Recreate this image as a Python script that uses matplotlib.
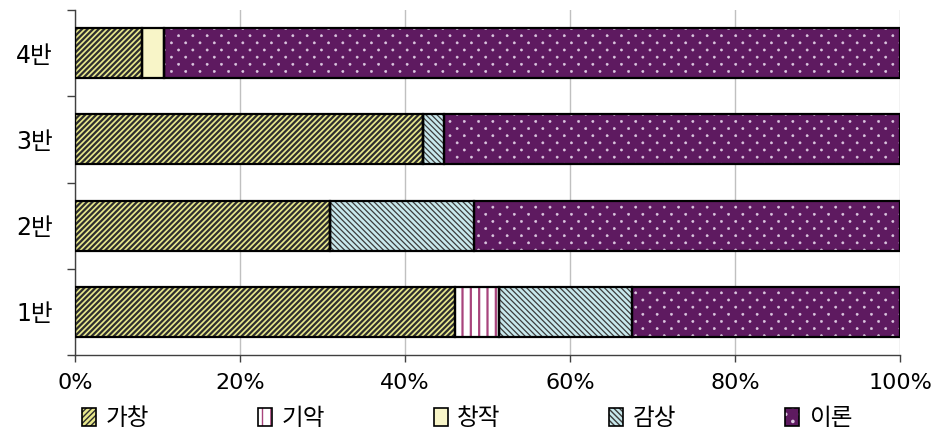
import numpy as np
import matplotlib
matplotlib.use('Agg')
import matplotlib.pyplot as plt
import matplotlib.hatch as mhatch
from matplotlib.path import Path
from matplotlib.patches import Patch
from matplotlib.legend_handler import HandlerTuple

plt.rcParams['font.family'] = ['DejaVu Sans', 'Noto Sans CJK KR']


# '.' 해치를 엑셀식 점무늬(가로 간격 넓고 행은 엇갈림)로 교체
class StaggerDots(mhatch.HatchPatternBase):
    def __init__(self, hatch, density):
        self.on = hatch.count('.') > 0
        self.rows, self.cols, self.r = 14, 7, 0.011
        circ = Path.unit_circle()
        self.cv, self.cc = circ.vertices, circ.codes
        self.centers = []
        if self.on:
            for i in range(self.rows + 1):
                yy = i / self.rows
                if i % 2 == 0:
                    xs = [j / self.cols for j in range(self.cols + 1)]
                else:
                    xs = [(j + 0.5) / self.cols for j in range(self.cols)]
                self.centers += [(xx, yy) for xx in xs]
        self.num_vertices = len(self.centers) * len(self.cv)

    def set_vertices_and_codes(self, vertices, codes):
        n = len(self.cv)
        for k, (cx, cy) in enumerate(self.centers):
            vertices[k * n:(k + 1) * n] = self.cv * self.r + (cx, cy)
            codes[k * n:(k + 1) * n] = self.cc


mhatch._hatch_types = [StaggerDots if t is mhatch.SmallFilledCircles else t
                       for t in mhatch._hatch_types]

# 데이터 (비율, %)
classes = ['1반', '2반', '3반', '4반']
series = ['가창', '기악', '창작', '감상', '이론']
gachang = [46.1, 30.9, 42.2, 8.1]
giak = [5.3, 0.0, 0.0, 0.0]
changjak = [0.0, 0.0, 0.0, 2.7]
gamsang = [16.1, 17.5, 2.5, 0.0]
iron = [32.5, 51.6, 55.3, 89.2]
xticks = [0, 20, 40, 60, 80, 100]

values = [gachang, giak, changjak, gamsang, iron]
faces = ['#e8e88c', '#ffffff', '#f8f5c8', '#c8e8ec', '#5e1a60']
hatch_cols = ['#2e2e2e', '#a8447c', '#f8f5c8', '#3c3c3c', '#dcc8e0']
hatches = ['//////', '||', None, '\\\\\\\\\\\\', '.']
hatch_lw = [1.6, 1.6, 1.0, 0.9, 0.4]

fig = plt.figure(figsize=(9.38, 4.37), dpi=100)
ax = fig.add_axes([0.08, 0.1876, 0.8795, 0.7895])

y = np.arange(len(classes))
left = np.zeros(len(classes))
handles = []
for vals, fc, hc, ht, hl in zip(values, faces, hatch_cols, hatches, hatch_lw):
    vals = np.array(vals)
    with plt.rc_context({'hatch.linewidth': hl}):
        ax.barh(y, vals, 0.58, left=left, color=fc, edgecolor=hc, hatch=ht,
                linewidth=0, zorder=2)
        p1 = Patch(facecolor=fc, edgecolor=hc, hatch=ht, linewidth=0)
    ax.barh(y, vals, 0.58, left=left, fill=False, edgecolor='black',
            linewidth=1.6, zorder=3)
    left += vals
    p2 = Patch(fill=False, edgecolor='black', linewidth=1.2)
    handles.append((p1, p2))

ax.set_xlim(0, 100)
ax.set_ylim(-0.5, 3.5)
ax.set_xticks(xticks)
ax.set_xticklabels([f'{t}%' for t in xticks], fontsize=16)
ax.set_yticks(y)
ax.set_yticklabels(classes, fontsize=17)
ax.set_yticks(np.arange(-0.5, 4, 1), minor=True)
ax.tick_params(axis='y', which='major', length=0, pad=16)
ax.tick_params(axis='y', which='minor', length=6, width=1, color='#404040')
ax.tick_params(axis='x', length=5, width=1, color='#404040', pad=8)

ax.grid(axis='x', color='#c0c0c0', linewidth=1)
ax.set_axisbelow(True)
for s in ['top', 'right']:
    ax.spines[s].set_visible(False)
for s in ['left', 'bottom']:
    ax.spines[s].set_color('#404040')
    ax.spines[s].set_linewidth(1)

fig.legend(handles, series, handler_map={tuple: HandlerTuple(ndivide=1)},
           loc='center left', bbox_to_anchor=(0.075, 0.043), ncol=5,
           frameon=False, fontsize=17, handlelength=0.6, handleheight=0.8,
           handletextpad=0.4, columnspacing=4.6, borderpad=0)

fig.savefig('out.png', dpi=100)
